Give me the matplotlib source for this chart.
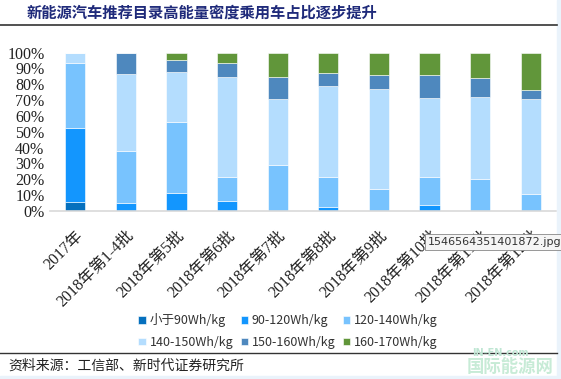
import matplotlib
matplotlib.use("Agg")
import matplotlib.pyplot as plt
import numpy as np
from matplotlib.patches import Rectangle

categories = ["2017年", "2018年第1-4批", "2018年第5批", "2018年第6批", "2018年第7批",
              "2018年第8批", "2018年第9批", "2018年第10批", "2018年第11批", "2018年第12批"]
series_names = ["小于90Wh/kg", "90-120Wh/kg", "120-140Wh/kg",
                "140-150Wh/kg", "150-160Wh/kg", "160-170Wh/kg"]
lt90 =    [5.3, 0,    0,    0,    0,    0,    0,    0,    0,    0]
s90_120 = [47.0, 5.0, 11.0, 6.1,  0,    2.1,  0,    3.4,  0,    0]
s120_140 = [41.4, 32.8, 45.3, 15.4, 28.9, 19.0, 13.7, 17.9, 19.9, 10.4]
s140_150 = [5.9, 48.7, 31.7, 63.3, 42.0, 57.8, 63.1, 50.2, 52.3, 60.5]
s150_160 = [0.4, 13.5, 7.4,  8.9, 13.7, 8.4,  9.3, 14.2, 12.0, 5.5]
s160_170 = [0,   0,    4.6,  6.3, 15.4, 12.7, 13.9, 14.3, 15.8, 23.6]
yticks = [0, 10, 20, 30, 40, 50, 60, 70, 80, 90, 100]

colors = ["#0570BE", "#1396FE", "#78C3FE", "#B4DDFE", "#4E88BE", "#61963A"]
data = [lt90, s90_120, s120_140, s140_150, s150_160, s160_170]

W, H = 561, 379
fig = plt.figure(figsize=(W/100, H/100), dpi=100)
fig.patch.set_facecolor("white")

cjk = ["Noto Sans CJK SC", "DejaVu Sans"]
serif = ["Liberation Serif", "Noto Sans CJK SC"]

# background strips
fig.patches.append(Rectangle((557/W, 0), 4/W, 1, transform=fig.transFigure, color="#EAF3FB", zorder=0))
fig.patches.append(Rectangle((0, 0), 1, 3/H, transform=fig.transFigure, color="#EAF3FB", zorder=0))

ax = fig.add_axes([50/W, 1-210.7/H, 506/W, (210.7-52.7)/H])
x = np.arange(len(categories))
bottom = np.zeros(len(categories))
for vals, c, name in zip(data, colors, series_names):
    v = np.array(vals) / 100.0
    ax.bar(x, v, width=0.4, bottom=bottom, color=c, edgecolor="#FFFFFF", linewidth=0.4, label=name)
    bottom += v

ax.set_xlim(-0.5, len(categories) - 0.5)
ax.set_ylim(0, 1)
ax.set_yticks([t/100 for t in yticks])
ax.set_yticklabels([f"{t}%" for t in yticks], family=serif, fontsize=11.5, color="#222222")
ax.set_xticks(x)
ax.set_xticklabels(categories, rotation=45, ha="right", rotation_mode="anchor",
                   family=serif, fontsize=11.5, color="#222222")
ax.tick_params(axis="y", length=0, pad=4)
ax.tick_params(axis="x", length=0, pad=12)
for s in ["top", "right", "left"]:
    ax.spines[s].set_visible(False)
ax.spines["bottom"].set_color("#D9D9D9")
ax.spines["bottom"].set_linewidth(1.2)

# legend (row-wise order)
handles, labels = ax.get_legend_handles_labels()
order = [0, 3, 1, 4, 2, 5]
leg = fig.legend([handles[i] for i in order], [labels[i] for i in order], ncol=3, loc="center",
                 bbox_to_anchor=(288/W, 1-331/H),
                 frameon=False, prop={"family": cjk, "size": 9}, handlelength=0.6, handleheight=0.6,
                 handletextpad=0.3, columnspacing=0.6, labelspacing=0.7)
for t in leg.get_texts():
    t.set_color("#333333")

# title and lines
fig.text(27/W, 1-13/H, "新能源汽车推荐目录高能量密度乘用车占比逐步提升", family=cjk,
         fontsize=11, fontweight="bold", color="#1F2A7A", va="center", ha="left")
fig.add_artist(plt.Line2D([0, 557/W], [1-25/H, 1-25/H], color="#333333", linewidth=1.2))
fig.add_artist(plt.Line2D([0, 557/W], [1-353/H, 1-353/H], color="#333333", linewidth=1.0))
fig.text(8/W, 1-366/H, "资料来源：工信部、新时代证券研究所", family=cjk, fontsize=10,
         color="#222222", va="center", ha="left")

# watermark
fig.text(472/W, 1-353/H, "IN-EN.com", fontsize=7, color="#BFE6D3", va="center", ha="left", fontweight="bold")
fig.text(467/W, 1-367/H, "国际能源网", family=cjk, fontsize=12.5, color="#C7EBD6", va="center", ha="left", fontweight="bold")

# tooltip
fig.text(428/W, 1-242/H, "1546564351401872.jpg", fontsize=8, color="#333333", va="center", ha="left",
         bbox=dict(boxstyle="square,pad=0.3", facecolor="#F5F5F5", edgecolor="#888888", linewidth=0.6))

fig.savefig("out.png", dpi=100)
